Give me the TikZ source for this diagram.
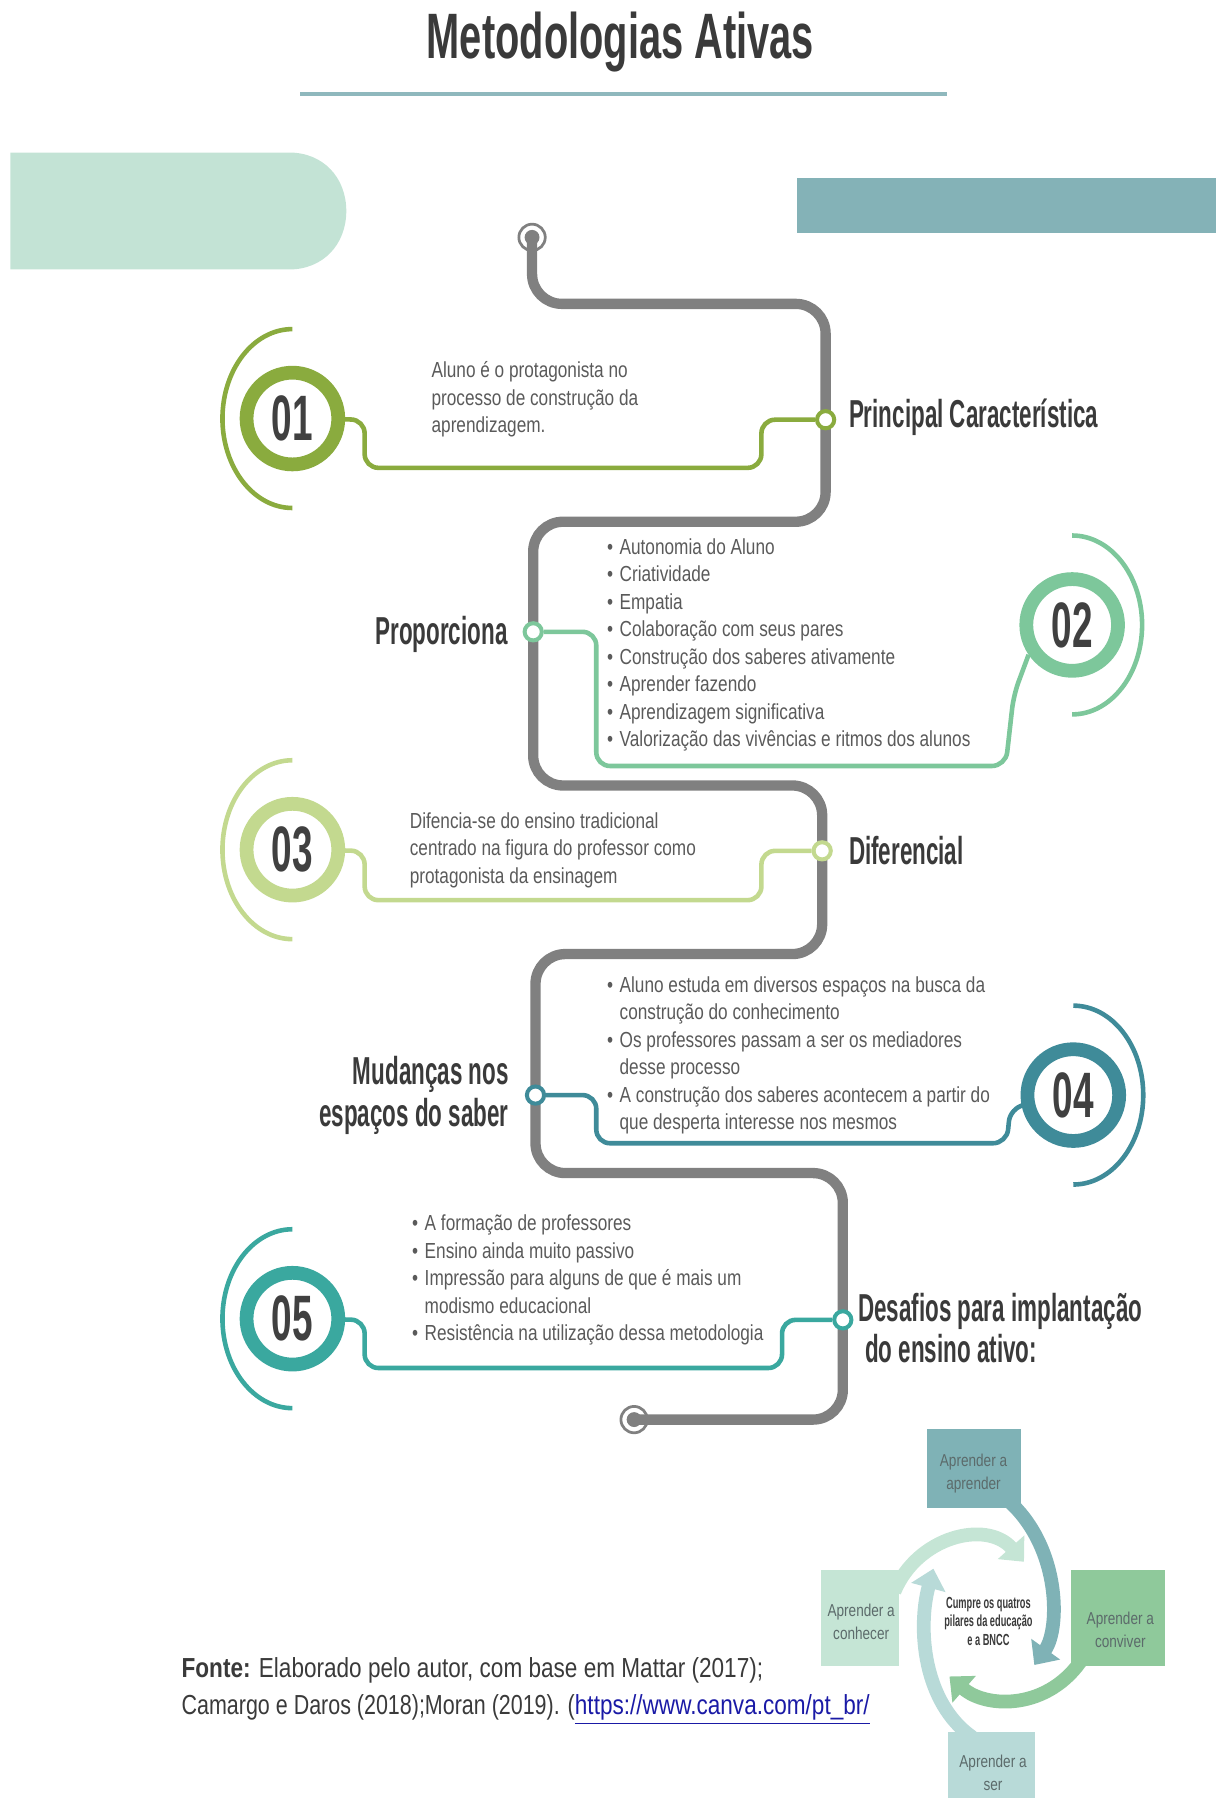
\documentclass[tikz,border=0pt]{standalone}
\usepackage{fontspec}
\setmainfont{Liberation Sans}
\newfontfamily\bodyfont[FakeStretch=0.79]{Liberation Sans}
\newfontfamily\condfont[FakeStretch=0.575]{Liberation Sans}
\newfontfamily\titlefont[FakeStretch=0.62]{Liberation Sans}
\newfontfamily\footfont[FakeStretch=0.82]{Liberation Sans}
\newfontfamily\footnarrow[FakeStretch=0.78]{Liberation Sans}
\usetikzlibrary{arrows.meta}
\pgfdeclarelayer{links}
\pgfdeclarelayer{track}
\pgfsetlayers{links,track,main}

\definecolor{trackgray}{HTML}{808080}
\definecolor{ccA}{HTML}{8AAB3E}
\definecolor{ccB}{HTML}{7DC79B}
\definecolor{ccC}{HTML}{C3D98F}
\definecolor{ccD}{HTML}{3F8B99}
\definecolor{ccE}{HTML}{3AA89F}
\definecolor{mintband}{HTML}{C3E3D5}
\definecolor{tealband}{HTML}{84B2B7}
\definecolor{rulecol}{HTML}{8FB8BD}
\definecolor{headgray}{HTML}{3A3A3A}
\definecolor{bodygray}{HTML}{5A5A5A}
\definecolor{numgray}{HTML}{404040}
\definecolor{linkblue}{HTML}{1A1AA6}
\definecolor{pilA}{HTML}{7FB2B6}
\definecolor{pilB}{HTML}{C5E5D5}
\definecolor{pilC}{HTML}{8FC99B}
\definecolor{pilD}{HTML}{B8DAD8}
\definecolor{piltext}{HTML}{5C6B6B}

\newcommand\itemdot{\makebox[5.5pt][l]{\textbullet}}
\newcommand\itemgap{\hspace*{5.5pt}}

\begin{document}
\begin{tikzpicture}[x=0.5pt,y=-0.5pt,
  heading/.style={font=\condfont\bfseries\fontsize{17}{18}\selectfont, text=headgray, inner sep=0pt},
  body/.style={font=\bodyfont\fontsize{9.5}{12}\selectfont, text=bodygray, inner sep=0pt, align=left},
  ring/.style={circle, draw=#1, line width=6pt, fill=white, minimum size=40pt, inner sep=0pt,
    font=\condfont\bfseries\fontsize{28}{30}\selectfont, text=numgray},
  halo/.style={draw=#1, line width=2pt},
  stop/.style={circle, draw=#1, line width=1.75pt, fill=white, minimum size=7.5pt, inner sep=0pt},
  link/.style={draw=#1, line width=2pt, rounded corners=6pt},
  track/.style={draw=trackgray, line width=4.5pt, rounded corners=13pt},
  endring/.style={circle, draw=trackgray, line width=1.2pt, minimum size=11.5pt, inner sep=0pt},
  pillar/.style={fill=#1, inner sep=0pt},
  pillabel/.style={font=\bodyfont\fontsize{7.5}{10}\selectfont, text=piltext, align=center, inner sep=0pt},
  turn/.style={draw=#1, line width=6pt, -{Triangle[length=8.5pt,width=15pt]}},
  foot/.style={font=\footfont\fontsize{12}{16}\selectfont, text=headgray, inner sep=0pt},
]
\useasboundingbox (0,0) rectangle (1060,1568);

% heading and decorative bands
\node[font=\titlefont\bfseries\fontsize{28}{30}\selectfont, text=headgray, inner sep=0pt, anchor=base] (title) at (541,51) {Metodologias Ativas};
\draw[rulecol, line width=1.5pt] (262,82) -- (826,82);
\fill[mintband] (9,133) -- (252,133) .. controls (282,133) and (302,155) .. (302,184)
  .. controls (302,213) and (282,235) .. (252,235) -- (9,235) -- cycle;
\fill[tealband] (695,155) rectangle (1060,203);

% the winding track
\node[endring] (s) at (464,207) {};
\fill[trackgray] (s.center) circle[radius=3.25pt];
\node[endring] (e) at (553,1238) {};
\fill[trackgray] (e.center) circle[radius=3.25pt];

\node[stop=ccA] (n1) at (720,366) {};
\node[stop=ccB] (n2) at (465,551) {};
\node[stop=ccC] (n3) at (717,742) {};
\node[stop=ccD] (n4) at (467,955) {};
\node[stop=ccE] (n5) at (735,1151) {};

\begin{pgfonlayer}{track}
\draw[track] (s.center) -- (464,265) -- (720,265) -- (n1.center) -- (720,455) -- (465,455)
  -- (n2.center) -- (465,685) -- (717,685) -- (n3.center) -- (717,832) -- (467,832)
  -- (n4.center) -- (467,1023) -- (735,1023) -- (n5.center) -- (735,1238) -- (e.center);
\end{pgfonlayer}

% numbered rings
\node[ring=ccA] (r1) at (255,365) {01};
\node[ring=ccB] (r2) at (935,545) {02};
\node[ring=ccC] (r3) at (255,741) {03};
\node[ring=ccD] (r4) at (936,955) {04};
\node[ring=ccE] (r5) at (255,1150) {05};

\draw[halo=ccA] ([yshift=39pt]r1.center) arc[start angle=90, end angle=270, x radius=30.5pt, y radius=39pt];
\draw[halo=ccB] ([yshift=39pt]r2.center) arc[start angle=90, end angle=-90, x radius=30.5pt, y radius=39pt];
\draw[halo=ccC] ([yshift=39pt]r3.center) arc[start angle=90, end angle=270, x radius=30.5pt, y radius=39pt];
\draw[halo=ccD] ([yshift=39pt]r4.center) arc[start angle=90, end angle=-90, x radius=30.5pt, y radius=39pt];
\draw[halo=ccE] ([yshift=39pt]r5.center) arc[start angle=90, end angle=270, x radius=30.5pt, y radius=39pt];

% branches from the stops to the rings
\begin{pgfonlayer}{links}
\draw[link=ccA] (n1) -- (664,366) -- (664,408) -- (318,408) -- (318,366) -- (r1);
\draw[link=ccB] (n2) -- (520,551) -- (520,668) -- (877,668) -- (884,606) -- ([shift={(-19pt,-13pt)}]r2.center);
\draw[link=ccC] (n3) -- (664,742) -- (664,785) -- (318,785) -- (318,742) -- (r3);
\draw[link=ccD] (n4) -- (520,955) -- (520,997) -- (878,997) -- (881,966) -- (r4);
\draw[link=ccE] (n5) -- (682,1151) -- (682,1193) -- (318,1193) -- (318,1151) -- (r5);
\end{pgfonlayer}

% labels and texts
\node[heading, anchor=base west] (h1) at (740,373) {Principal Característica};
\node[body, anchor=north west] (t1) at (376,315) {Aluno é o protagonista no\\processo de construção da\\aprendizagem.};

\node[heading, anchor=base east] (h2) at (443,562) {Proporciona};
\node[body, anchor=north west] (t2) at (529,469) {\itemdot Autonomia do Aluno\\\itemdot Criatividade\\\itemdot Empatia\\\itemdot Colaboração com seus pares\\\itemdot Construção dos saberes ativamente\\\itemdot Aprender fazendo\\\itemdot Aprendizagem significativa\\\itemdot Valorização das vivências e ritmos dos alunos};

\node[heading, anchor=base west] (h3) at (740,754) {Diferencial};
\node[body, anchor=north west] (t3) at (357,708) {Difencia-se do ensino tradicional\\centrado na figura do professor como\\protagonista da ensinagem};

\node[heading, anchor=north east, align=right] (h4) at (444,921) {Mudanças nos\\espaços do saber};
\node[body, anchor=north west] (t4) at (529,851) {\itemdot Aluno estuda em diversos espaços na busca da\\\itemgap construção do conhecimento\\\itemdot Os professores passam a ser os mediadores\\\itemgap desse processo\\\itemdot A construção dos saberes acontecem a partir do\\\itemgap que desperta interesse nos mesmos};

\node[heading, anchor=north west, align=left] (h5) at (748,1127) {Desafios para implantação\\\hspace*{3pt}do ensino ativo:};
\node[body, anchor=north west] (t5) at (359,1059) {\itemdot A formação de professores\\\itemdot Ensino ainda muito passivo\\\itemdot Impressão para alguns de que é mais um\\\itemgap modismo educacional\\\itemdot Resistência na utilização dessa metodologia};

% four pillars
\node[pillar=pilA, minimum width=41pt, minimum height=34.5pt] (pa) at (849,1280.5) {};
\node[pillar=pilB, minimum width=34pt, minimum height=42pt] (pb) at (750,1411) {};
\node[pillar=pilC, minimum width=41pt, minimum height=42pt] (pc) at (975,1411) {};
\node[pillar=pilD, minimum width=38pt, minimum height=29pt] (pd) at (865,1539) {};

\draw[turn=pilB] (780,1388) .. controls (800,1340) and (860,1325) .. (893,1362);
\draw[turn=pilA] (875,1305) .. controls (925,1345) and (925,1420) .. (902,1452);
\draw[turn=pilC] (945,1445) .. controls (915,1492) and (860,1490) .. (828,1462);
\draw[turn=pilD] (848,1515) .. controls (805,1485) and (800,1420) .. (814,1368);

\node[pillabel] (la) at (849,1285) {Aprender a\\aprender};
\node[pillabel] (lb) at (751,1414) {Aprender a\\conhecer};
\node[pillabel] (lc) at (977,1421) {Aprender a\\conviver};
\node[pillabel] (ld) at (866,1546) {Aprender a\\ser};

\node[font=\condfont\bfseries\fontsize{7}{8}\selectfont, text=headgray, align=center, inner sep=0pt] (core) at (862,1414) {Cumpre os quatros\\pilares da educação\\e a BNCC};

% source
\node[foot, anchor=base west] (f1) at (158,1463) {\textbf{Fonte:} Elaborado pelo autor, com base em Mattar (2017);};
\node[foot, anchor=base west] (f2) at (158,1495) {\footnarrow Camargo e Daros (2018);Moran (2019). (\footfont\textcolor{linkblue}{\underline{https://www.canva.com/pt\_br/}}};
\end{tikzpicture}
\end{document}
